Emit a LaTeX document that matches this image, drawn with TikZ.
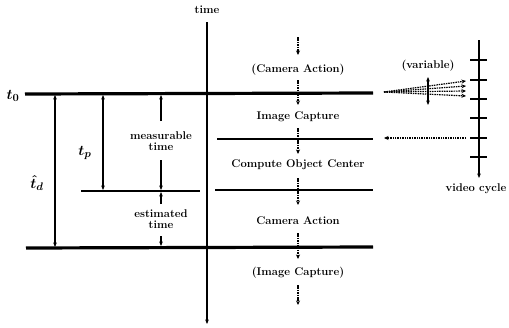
\documentclass[tikz,border=0pt]{standalone}
\usetikzlibrary{arrows.meta}
\begin{document}
\begin{tikzpicture}[x=1pt,y=-1pt,
  lbl/.style={font=\fontsize{11.2}{12}\selectfont\bfseries, inner sep=0pt, align=center},
  sym/.style={font=\fontsize{15}{16}\selectfont\boldmath, inner sep=0pt},
  thickline/.style={line width=3.2pt},
  midline/.style={line width=1.7pt},
  tip/.style={-{Stealth[length=4.5pt,width=3.6pt]}},
  dtip/.style={{Stealth[length=4.5pt,width=3.6pt]}-{Stealth[length=4.5pt,width=3.6pt]}},
  dots/.style={line width=1.2pt, dash pattern=on 1.5pt off 0.9pt, -{Stealth[length=4.5pt,width=4pt]}},
  axis/.style={line width=1.2pt}
]
\useasboundingbox (0,0) rectangle (509,327);

% time axis
\coordinate (tTop) at (207,22);
\coordinate (tBot) at (207,324);
\draw[axis, tip] (tTop) -- (tBot);
\node[lbl] (timelbl) at (207,10) {time};

% time boundaries
\coordinate (t0L) at (25,94);  \coordinate (t0R) at (373,93);
\coordinate (c1L) at (217,139); \coordinate (c1R) at (373,139);
\coordinate (c2La) at (81,191); \coordinate (c2Lb) at (200,191);
\coordinate (c2Ra) at (215,190); \coordinate (c2Rb) at (373,190);
\coordinate (bL) at (26,248);  \coordinate (bR) at (373,247);
\draw[thickline] (t0L) -- (t0R);
\draw[midline] (c1L) -- (c1R);
\draw[midline] (c2La) -- (c2Lb);
\draw[midline] (c2Ra) -- (c2Rb);
\draw[thickline] (bL) -- (bR);
\node[sym] (t0) at (13,96) {$t_0$};

% delay intervals
\coordinate (tdT) at (55,95); \coordinate (tdB) at (55,247);
\draw[axis, dtip] (tdT) -- (tdB);
\node[sym] (td) at (37,183) {$\hat{t}_d$};
\coordinate (tpT) at (103,95); \coordinate (tpB) at (103,190);
\draw[axis, dtip] (tpT) -- (tpB);
\node[sym] (tp) at (85,153) {$t_p$};

% measurable / estimated time
\node[lbl] (meas) at (161,141) {measurable\\[-1pt]time};
\coordinate (mT) at (161,95); \coordinate (mB) at (161,190);
\draw[axis, tip] (161,121) -- (mT);
\draw[axis, tip] (161,160) -- (mB);
\node[lbl] (est) at (161,219) {estimated\\[-1pt]time};
\coordinate (eT) at (161,192); \coordinate (eB) at (161,246);
\draw[axis, tip] (161,204) -- (eT);
\draw[axis, tip] (161,236) -- (eB);

% processing steps
\node[lbl] (s1) at (298,70) {(Camera Action)};
\node[lbl] (s2) at (298,117) {Image Capture};
\node[lbl] (s3) at (298,165) {Compute Object Center};
\node[lbl] (s4) at (298,221) {Camera Action};
\node[lbl] (s5) at (298,273) {(Image Capture)};
\draw[dots] (298,37) -- (298,55);
\draw[dots] (298,80) -- (298,105);
\draw[dots] (298,128) -- (298,154);
\draw[dots] (298,178) -- (298,205);
\draw[dots] (298,233) -- (298,259);
\draw[dots] (298,285) -- (298,305);

% video cycle axis
\coordinate (vTop) at (479,40); \coordinate (vBot) at (479,178);
\draw[axis, tip] (vTop) -- (vBot);
\foreach \yy in {60,80,99,118,138,157}
  \draw[line width=1.5pt] (470,\yy) -- (487,\yy);
\node[lbl] (vc) at (476,189) {video cycle};

% capture completion signal
\coordinate (sigR) at (466,138); \coordinate (sigL) at (384,138);
\draw[dots] (sigR) -- (sigL);

% variable trigger
\coordinate (fan) at (384,92);
\foreach \yy in {81,86,91,96}
  \draw[dots] (fan) -- (466,\yy);
\coordinate (vT) at (428,77); \coordinate (vB) at (428,105);
\draw[axis, dtip] (vT) -- (vB);
\node[lbl] (var) at (428,66) {(variable)};
\end{tikzpicture}
\end{document}
